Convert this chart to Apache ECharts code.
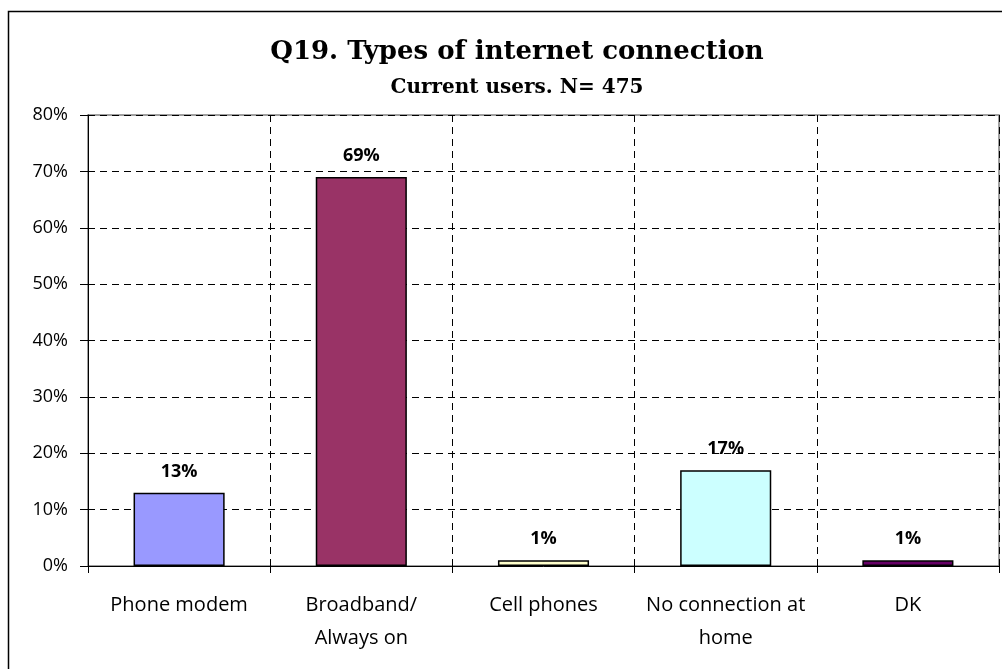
<!DOCTYPE html>
<html>
<head>
<meta charset="utf-8">
<script src="https://cdn.jsdelivr.net/npm/echarts@6/dist/echarts.min.js"></script>
<style>
html,body{margin:0;padding:0;background:#fff;}
#chart{width:1002px;height:669px;}
</style>
</head>
<body>
<div id="chart"></div>
<script>
const categories = ['Phone modem', 'Broadband/\nAlways on', 'Cell phones', 'No connection at\nhome', 'DK'];
const values = [13, 69, 1, 17, 1];
const barColors = ['#9999FF', '#993366', '#FFFFCC', '#CCFFFF', '#660066'];
const titleText = 'Q19. Types of internet connection';
const subtitleText = 'Current users. N= 475';

const chart = echarts.init(document.getElementById('chart'));
chart.setOption({
  animation: false,
  backgroundColor: '#fff',
  graphic: [{
    type: 'rect',
    shape: { x: 8.5, y: 11.5, width: 1100, height: 1000 },
    style: { fill: 'none', stroke: '#000', lineWidth: 1.5 },
    z: -1
  }, {
    type: 'rect',
    shape: { x: 88, y: 115, width: 911, height: 451 },
    style: { fill: 'none', stroke: '#808080', lineWidth: 1.5 },
    z: 0
  }],
  title: {
    text: titleText,
    subtext: subtitleText,
    left: 512,
    textAlign: 'center',
    top: 34,
    itemGap: 13,
    textStyle: { fontFamily: 'DejaVu Serif', fontWeight: 'bold', fontSize: 26, color: '#000' },
    subtextStyle: { fontFamily: 'DejaVu Serif', fontWeight: 'bold', fontSize: 20, color: '#000' }
  },
  grid: { left: 88, right: 3, top: 115, bottom: 103, containLabel: false },
  xAxis: {
    type: 'category',
    data: categories,
    axisLine: { lineStyle: { color: '#000', width: 1 } },
    axisTick: { show: true, length: 7, lineStyle: { color: '#000' } },
    axisLabel: { color: '#000', fontFamily: 'Open Sans', fontSize: 20, margin: 23, lineHeight: 33, interval: 0 },
    splitLine: { show: true, lineStyle: { type: [7, 5], color: '#000', width: 1 } }
  },
  yAxis: {
    type: 'value',
    min: 0, max: 80, interval: 10,
    axisLine: { show: true, lineStyle: { color: '#000', width: 1 } },
    axisTick: { show: true, length: 8, lineStyle: { color: '#000' } },
    axisLabel: { color: '#000', fontFamily: 'Open Sans', fontSize: 18, margin: 20, formatter: '{value}%' },
    splitLine: { show: true, lineStyle: { type: [7, 5], color: '#000', width: 1 } }
  },
  series: [{
    type: 'bar',
    data: values.map((v, i) => ({ value: v, itemStyle: { color: barColors[i] } })),
    barWidth: '50%',
    itemStyle: { borderColor: '#000', borderWidth: 1.5 },
    label: {
      show: true, position: 'top', distance: 12,
      formatter: '{c}%', color: '#000', fontFamily: 'Open Sans', fontWeight: 'bold', fontSize: 18
    }
  }]
});
</script>
</body>
</html>
